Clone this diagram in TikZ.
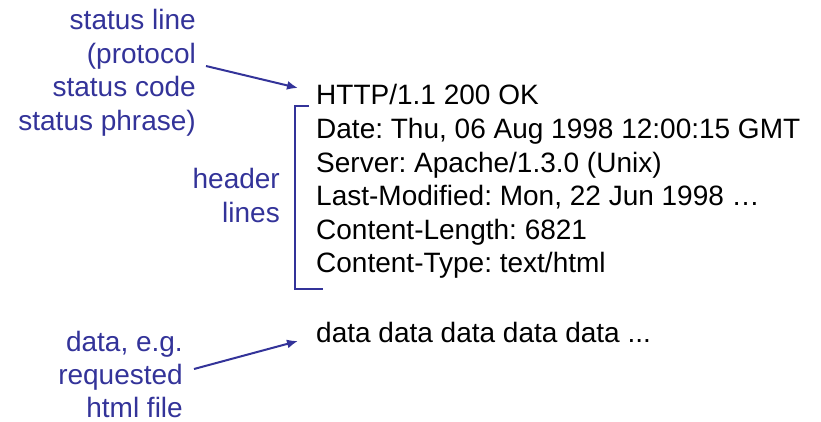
\documentclass[tikz,border=0pt]{standalone}
\usepackage{fontspec}
\setmainfont{Liberation Sans}
\usetikzlibrary{arrows.meta}
\definecolor{labelblue}{RGB}{51,51,153}
\tikzset{
  msg/.style={anchor=base west, inner sep=0pt, text=black, font=\fontsize{28}{33.6}\selectfont\frenchspacing},
  note/.style={anchor=base east, inner sep=0pt, text=labelblue, font=\fontsize{28}{33.6}\selectfont\frenchspacing},
  pointer/.style={draw=labelblue, line width=2pt, -{Latex[length=11pt,width=9pt]}},
  bracket/.style={draw=labelblue, line width=2pt}
}
\begin{document}
\begin{tikzpicture}[x=1pt,y=-1pt]
  \useasboundingbox (0,0) rectangle (821,422);
  % response message lines
  \node[msg] (l1) at (316,105) {HTTP/1.1 200 OK};
  \node[msg] (l2) at (316,138.5) {Date: Thu, 06 Aug 1998 12:00:15 GMT};
  \node[msg] (l3) at (316,172) {Server: Apache/1.3.0 (Unix)};
  \node[msg] (l4) at (316,205.5) {Last-Modified: Mon, 22 Jun 1998 …};
  \node[msg] (l5) at (316,239) {Content-Length: 6821};
  \node[msg] (l6) at (316,272.5) {Content-Type: text/html};
  \node[msg] (body) at (316,342) {data data data data data ...};
  % annotations on the left
  \node[note] (s1) at (196,30) {status line};
  \node[note] (s2) at (196,63.5) {(protocol};
  \node[note] (s3) at (196,97) {status code};
  \node[note] (s4) at (196,130.5) {status phrase)};
  \node[note] (h1) at (280,189) {header};
  \node[note] (h2) at (280,222.5) {lines};
  \node[note] (d1) at (183,351) {data, e.g.};
  \node[note] (d2) at (183,384.5) {requested};
  \node[note] (d3) at (183,417.5) {html file};
  % connectors
  \coordinate (a1s) at (206,66);
  \coordinate (a1e) at (298,88);
  \coordinate (a2s) at (194,369);
  \coordinate (a2e) at (298,341);
  \draw[pointer] (a1s) -- (a1e);
  \draw[pointer] (a2s) -- (a2e);
  % bracket grouping the header lines
  \coordinate (bt) at (309,106);
  \coordinate (bb) at (323,288.5);
  \draw[bracket] (bt) -- (295,106) -- (295,288.5) -- (bb);
\end{tikzpicture}
\end{document}
